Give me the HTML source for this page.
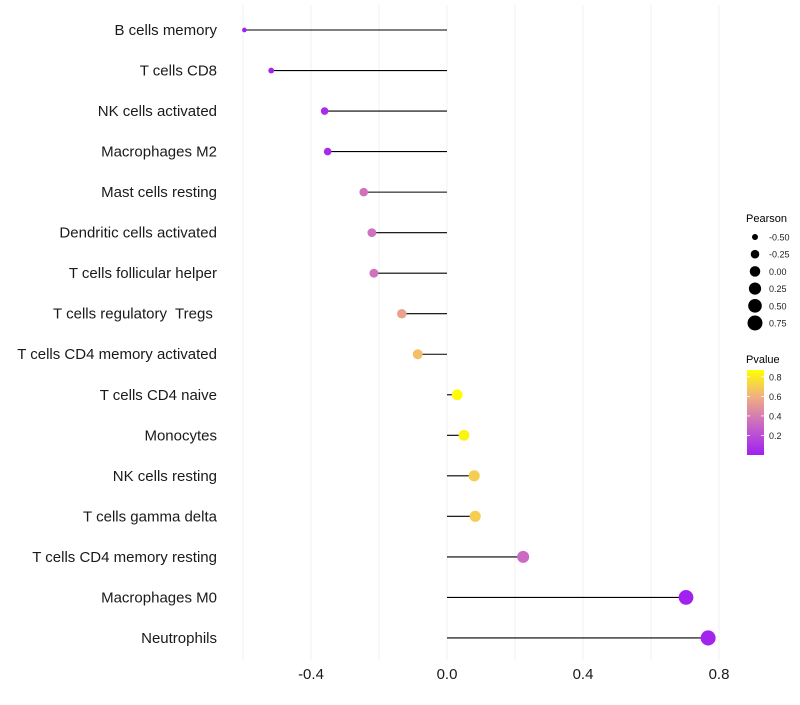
<!DOCTYPE html>
<html><head><meta charset="utf-8"><style>
body{margin:0;background:#fff;font-family:"Liberation Sans",sans-serif}
svg text{font-family:"Liberation Sans",sans-serif;white-space:pre}
</style></head><body>
<svg id="chart" width="800" height="700" xmlns="http://www.w3.org/2000/svg"></svg>
<script>
const categories=["B cells memory","T cells CD8","NK cells activated","Macrophages M2","Mast cells resting","Dendritic cells activated","T cells follicular helper","T cells regulatory  Tregs ","T cells CD4 memory activated","T cells CD4 naive","Monocytes","NK cells resting","T cells gamma delta","T cells CD4 memory resting","Macrophages M0","Neutrophils"];
const pearson=[-0.596,-0.517,-0.36,-0.351,-0.245,-0.221,-0.215,-0.133,-0.086,0.03,0.05,0.08,0.083,0.224,0.703,0.768];
const pvalues=[0.01,0.02,0.05,0.05,0.35,0.35,0.36,0.55,0.65,0.86,0.83,0.7,0.7,0.32,0.01,0.02];
const xTicks=[-0.4,0,0.4,0.8];
const xTickLabels=["-0.4","0.0","0.4","0.8"];
const gridVals=[-0.6,-0.4,-0.2,0,0.2,0.4,0.6,0.8];
const sizeLegend=[-0.5,-0.25,0,0.25,0.5,0.75];
const sizeLegendLabels=["-0.50","-0.25","0.00","0.25","0.50","0.75"];
const colorLegend=[0.2,0.4,0.6,0.8];

const NS="http://www.w3.org/2000/svg";
const svg=document.getElementById('chart');
const X=v=>447+340*v;
const Y=i=>30+i*40.53;
const R=v=>Math.sqrt(Math.max(1,5.2+37.6*(v+0.6)));
const stops=[[0,[160,32,240]],[0.3,[200,100,200]],[0.6,[240,176,128]],[0.87,[255,255,0]]];
function col(p){
  if(p<=stops[0][0])return `rgb(${stops[0][1]})`;
  for(let i=1;i<stops.length;i++){if(p<=stops[i][0]){const a=stops[i-1],b=stops[i],t=(p-a[0])/(b[0]-a[0]);
    return 'rgb('+a[1].map((c,k)=>Math.round(c+(b[1][k]-c)*t)).join(',')+')';}}
  return `rgb(${stops[stops.length-1][1]})`;
}
function el(t,a,p){const e=document.createElementNS(NS,t);for(const k in a)e.setAttribute(k,a[k]);(p||svg).appendChild(e);return e;}
gridVals.forEach(v=>{
  const g=el('line',{x1:X(v),x2:X(v),y1:5,y2:660,stroke:'#f2f2f2','stroke-width':1});
  
  
});
categories.forEach((c,i)=>{
  const y=Y(i);
  const t=el('text',{x:217,y:y+5,'text-anchor':'end','font-size':15,fill:'#1a1a1a'});t.textContent=c;
  
  
  const l=el('line',{x1:X(0),x2:X(pearson[i]),y1:y,y2:y,stroke:'#000','stroke-width':1.1});
  
  
  const p=el('circle',{cx:X(pearson[i]),cy:y,r:R(pearson[i]),fill:col(pvalues[i])});
  
  
});
xTicks.forEach((v,i)=>{
  const t=el('text',{x:X(v),y:679,'text-anchor':'middle','font-size':15,fill:'#1a1a1a'});t.textContent=xTickLabels[i];
  
  
});
const lt=el('text',{x:746,y:222,'font-size':11,fill:'#000'});lt.textContent='Pearson';


sizeLegend.forEach((v,i)=>{
  const y=237+i*17.2;
  const c=el('circle',{cx:755,cy:y,r:R(v),fill:'#000'});
  
  
  const t=el('text',{x:769,y:y+3.5,'font-size':9,fill:'#222'});t.textContent=sizeLegendLabels[i];
  
  
});
const ct=el('text',{x:746,y:363,'font-size':11,fill:'#000'});ct.textContent='Pvalue';


const defs=el('defs',{});
const lg=el('linearGradient',{id:'pg',x1:0,y1:1,x2:0,y2:0},defs);
stops.forEach(s=>el('stop',{offset:s[0]/0.87,'stop-color':`rgb(${s[1]})`},lg));
const cb=el('rect',{x:747,y:370,width:17,height:85,fill:'url(#pg)'});


const CY=v=>455-v*97.7;
colorLegend.forEach(v=>{
  el('line',{x1:747,x2:750,y1:CY(v),y2:CY(v),stroke:'#fff','stroke-width':0.8});
  el('line',{x1:761,x2:764,y1:CY(v),y2:CY(v),stroke:'#fff','stroke-width':0.8});
  const t=el('text',{x:769,y:CY(v)+3.5,'font-size':9,fill:'#222'});t.textContent=v.toFixed(1);
  
  
});
</script>
</body></html>
